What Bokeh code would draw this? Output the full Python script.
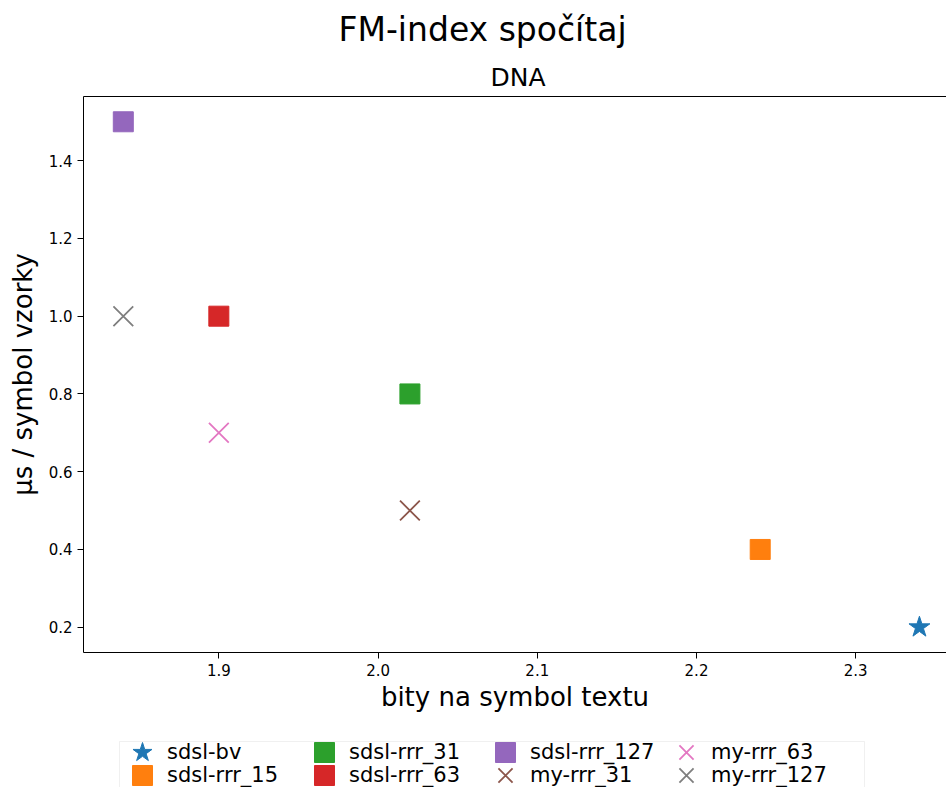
from bokeh.plotting import figure
from bokeh.layouts import column
from bokeh.models import (Range1d, Title, Legend, LegendItem, FixedTicker,
                          LinearAxis, ColumnDataSource, BoxAnnotation)
from bokeh.embed import file_html
from bokeh.resources import INLINE

# Measurements per index variant (DNA text)
variants = ["sdsl-bv", "sdsl-rrr_15", "sdsl-rrr_31", "sdsl-rrr_63",
            "sdsl-rrr_127", "my-rrr_31", "my-rrr_63", "my-rrr_127"]
bits_per_symbol = [2.34, 2.24, 2.02, 1.90, 1.84, 2.02, 1.90, 1.84]
us_per_symbol = [0.2, 0.4, 0.8, 1.0, 1.5, 0.5, 0.7, 1.0]
markers = ["star", "square", "square", "square", "square", "x", "x", "x"]
colors = ["#1f77b4", "#ff7f0e", "#2ca02c", "#d62728",
          "#9467bd", "#8c564b", "#e377c2", "#7f7f7f"]

x_ticks = [1.9, 2.0, 2.1, 2.2, 2.3]
x_tick_labels = ["1.9", "2.0", "2.1", "2.2", "2.3"]
y_ticks = [0.2, 0.4, 0.6, 0.8, 1.0, 1.2, 1.4]
y_tick_labels = ["0.2", "0.4", "0.6", "0.8", "1.0", "1.2", "1.4"]

FONT = "DejaVu Sans"
W = 946
MAIN_H = 720
LEG_H = 787 - MAIN_H
LEFT = 83


def marker_style(mk, col):
    if mk == "x":
        return dict(marker="x", size=28, line_color=col, line_width=1.8)
    if mk == "star":
        return dict(marker="star", size=22, fill_color=col, line_color=col)
    return dict(marker="square", size=20, fill_color=col, line_color=col)


# ---- main scatter plot ----
p = figure(width=W, height=MAIN_H, output_backend="svg", toolbar_location=None,
           title=None,
           x_range=Range1d(1.815, 2.357), y_range=Range1d(0.135, 1.565),
           min_border_left=LEFT, min_border_right=0,
           min_border_top=96, min_border_bottom=MAIN_H - 652)
p.outline_line_color = None
p.xgrid.visible = False
p.ygrid.visible = False
p.border_fill_color = "white"

for ax, ticks, labels in ((p.xaxis[0], x_ticks, x_tick_labels),
                          (p.yaxis[0], y_ticks, y_tick_labels)):
    ax.ticker = FixedTicker(ticks=ticks)
    ax.major_label_overrides = {t: l for t, l in zip(ticks, labels)}
    ax.minor_tick_line_color = None
    ax.major_tick_in = 0
    ax.major_tick_out = 6
    ax.major_tick_line_color = "black"
    ax.axis_line_color = "black"
    ax.major_label_text_font = FONT
    ax.major_label_text_font_size = "15px"
    ax.major_label_text_color = "black"
    ax.axis_label_text_font = FONT
    ax.axis_label_text_font_size = "26px"
    ax.axis_label_text_font_style = "normal"
    ax.axis_label_text_color = "black"
    ax.major_label_standoff = 5

p.xaxis.axis_label = "bity na symbol textu"
p.yaxis.axis_label = "µs / symbol vzorky"
p.xaxis.axis_label_standoff = 3
p.yaxis.axis_label_standoff = 8

# top spine
top = LinearAxis(ticker=FixedTicker(ticks=[]), major_label_text_font_size="0px",
                 major_tick_line_color=None, minor_tick_line_color=None,
                 axis_line_color="black")
p.add_layout(top, "above")

p.add_layout(Title(text="DNA", align="left", offset=407, text_font=FONT,
                   text_font_size="25px", text_font_style="normal",
                   text_color="black", standoff=9), "above")
p.add_layout(Title(text="FM-index spočítaj", align="left", offset=255,
                   text_font=FONT, text_font_size="33px",
                   text_font_style="normal", text_color="black",
                   text_line_height=0.9, standoff=15), "above")

for xv, yv, mk, col in zip(bits_per_symbol, us_per_symbol, markers, colors):
    src = ColumnDataSource(data=dict(x=[xv], y=[yv]))
    p.scatter("x", "y", source=src, **marker_style(mk, col))

# ---- legend strip under the plot (its x/y units are canvas pixels) ----
leg = figure(width=W, height=LEG_H, output_backend="svg", toolbar_location=None,
             x_range=Range1d(LEFT, W), y_range=Range1d(0, LEG_H),
             x_axis_type=None, y_axis_type=None, title=None,
             min_border_left=LEFT, min_border_right=0,
             min_border_top=0, min_border_bottom=0)
leg.outline_line_color = None
leg.xgrid.visible = False
leg.ygrid.visible = False
leg.border_fill_color = "white"

leg.add_layout(BoxAnnotation(left=119, right=864, top=787 - 741, bottom=-20,
                             fill_color="white", fill_alpha=1.0,
                             line_color="#cccccc", line_width=1))

# legend glyph sources: the series points lie outside this strip's range,
# so only the legend swatches show up here
entries = []
for name, xv, yv, mk, col in zip(variants, bits_per_symbol, us_per_symbol,
                                 markers, colors):
    src = ColumnDataSource(data=dict(x=[xv], y=[yv]))
    r = leg.scatter("x", "y", source=src, **marker_style(mk, col))
    entries.append(LegendItem(label=name, renderers=[r]))

col_left = [117, 299, 480, 661]
row_bottom = [10, -13]
for k, item in enumerate(entries):
    c, rw = divmod(k, 2)
    lg = Legend(items=[item], location=(col_left[c] - LEFT, row_bottom[rw]),
                orientation="vertical",
                label_text_font=FONT, label_text_font_size="21px",
                label_text_color="black",
                glyph_width=50, glyph_height=50, label_standoff=0,
                spacing=0, padding=0, margin=0,
                border_line_color=None, background_fill_alpha=0)
    leg.add_layout(lg, "center")

open("out.html", "w").write(file_html(column(p, leg, spacing=0), INLINE))
